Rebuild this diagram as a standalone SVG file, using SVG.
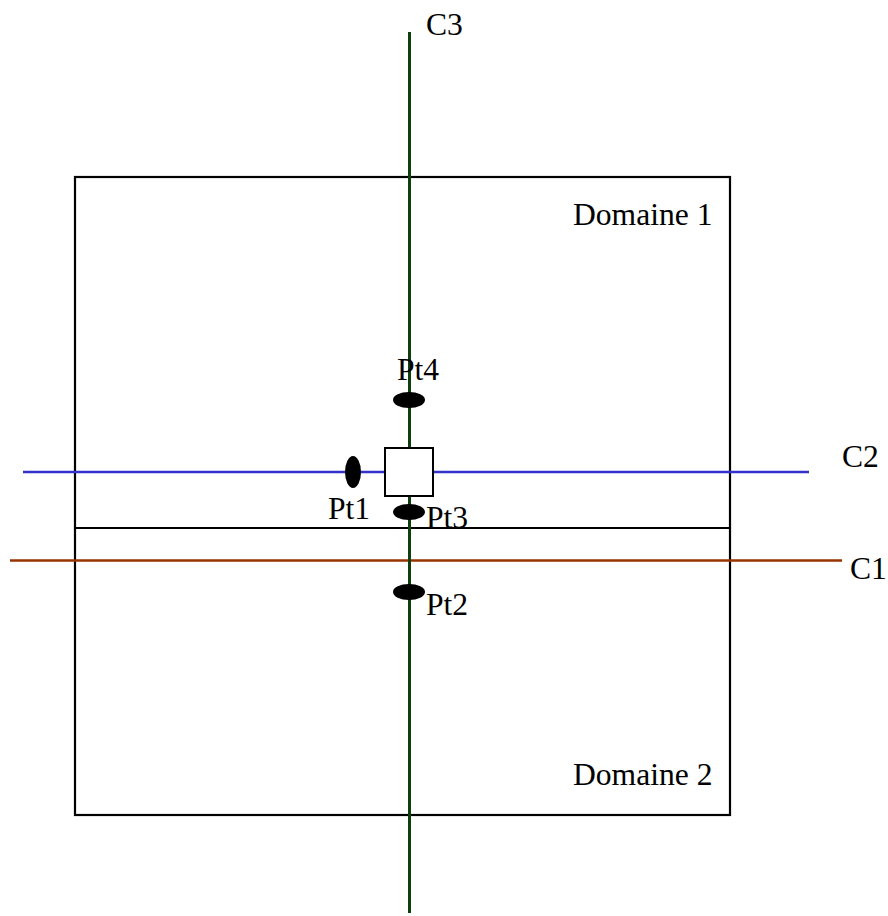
<svg xmlns="http://www.w3.org/2000/svg" width="888" height="916" viewBox="0 0 888 916">
<style>
text{font-family:"Liberation Serif","Times New Roman",serif;font-size:31.6px;fill:#000}
.pt{fill:#000}
</style>
<rect width="888" height="916" fill="#fff"/>
<g id="domaines">
<rect x="75" y="177" width="655" height="638" fill="none" stroke="#000" stroke-width="2.2"/>
<line x1="75" y1="528" x2="730" y2="528" stroke="#000" stroke-width="2.2"/>
<text x="573" y="225">Domaine 1</text>
<text x="573" y="785">Domaine 2</text>
</g>
<g id="connectors">
<line id="C2" x1="23" y1="472" x2="809" y2="472" stroke="#3333cc" stroke-width="2.4"/>
<line id="C1" x1="10" y1="560.5" x2="842" y2="560.5" stroke="#993300" stroke-width="2.4"/>
<line id="C3" x1="409.5" y1="32" x2="409.5" y2="913" stroke="#0f3f0f" stroke-width="3"/>
</g>
<g id="square"><rect x="385" y="448" width="48" height="48" fill="#fff" stroke="#000" stroke-width="2"/></g>
<g id="Pt4"><ellipse class="pt" cx="409" cy="400" rx="16" ry="8"/><text x="397" y="380">Pt4</text></g>
<g id="Pt1"><ellipse class="pt" cx="353" cy="472" rx="8" ry="16"/><text x="328" y="519">Pt1</text></g>
<g id="Pt3"><ellipse class="pt" cx="409" cy="512" rx="16" ry="8"/><text x="426" y="528">Pt3</text></g>
<g id="Pt2"><ellipse class="pt" cx="409" cy="592" rx="16" ry="8"/><text x="426" y="615">Pt2</text></g>
<g id="labels">
<text x="426" y="35">C3</text>
<text x="842" y="467">C2</text>
<text x="850" y="579">C1</text>
</g>
</svg>
